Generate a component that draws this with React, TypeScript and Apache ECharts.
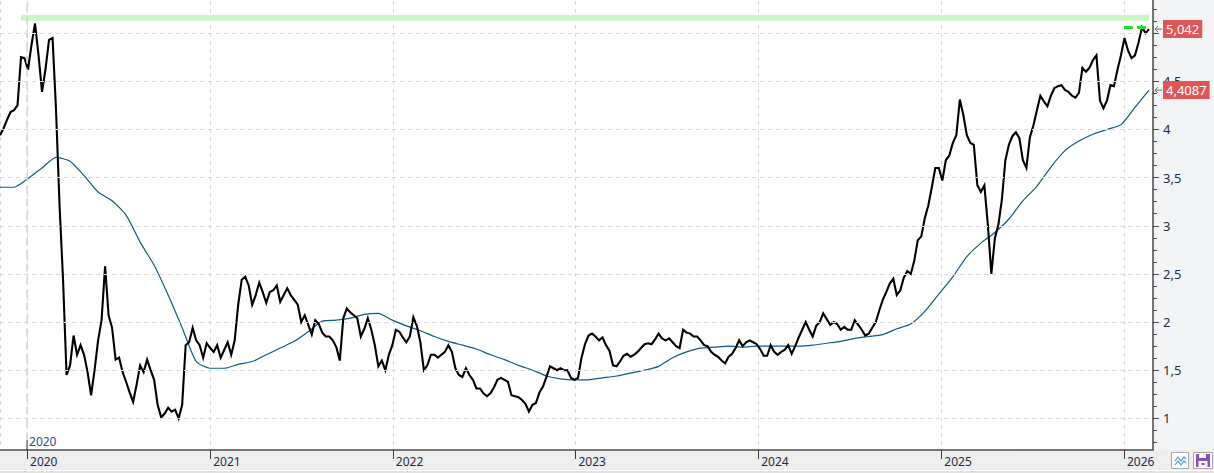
import React, { useEffect, useRef } from "react";
import * as echarts from "echarts";

const DAY = 86400000;
const WEEK = 7 * DAY;
const FONT = "'Segoe UI', 'Noto Sans', sans-serif";
const TEXT = "#1f2b48";

// the chart canvas starts above the page so that the 0.5-step scale can
// run past the visible top edge
const LIFT = 15;

// first weekly bar of the series
const FIRST_WEEK = new Date(2019, 10, 8).getTime();

// weekly closes, one list per calendar year
const close2019 = [3.94, 4.01, 4.1, 4.18, 4.2, 4.25, 4.75, 4.74];
const close2020 = [
  4.62, 4.88, 5.1, 4.77, 4.39, 4.63, 4.93, 4.95, 4.2, 3.21, 2.44, 1.45, 1.55, 1.86,
  1.66, 1.76, 1.66, 1.48, 1.24, 1.5, 1.81, 2.02, 2.58, 2.07, 1.94, 1.61, 1.63, 1.48,
  1.38, 1.27, 1.17, 1.35, 1.55, 1.48, 1.61, 1.5, 1.4, 1.14, 1.01, 1.05, 1.11, 1.07,
  1.09, 1.0, 1.14, 1.76, 1.79, 1.94, 1.81, 1.76, 1.63, 1.78,
];
const close2021 = [
  1.73, 1.69, 1.76, 1.63, 1.71, 1.79, 1.66, 1.81, 2.18, 2.44, 2.47, 2.38, 2.18, 2.28,
  2.41, 2.31, 2.2, 2.31, 2.33, 2.38, 2.21, 2.28, 2.35, 2.28, 2.23, 2.18, 2.0, 2.07,
  1.97, 1.87, 2.02, 1.98, 1.89, 1.85, 1.85, 1.81, 1.74, 1.6, 2.04, 2.14, 2.1, 2.07,
  2.04, 1.85, 1.93, 2.04, 1.92, 1.76, 1.54, 1.6, 1.5, 1.66,
];
const close2022 = [
  1.76, 1.92, 1.9, 1.84, 1.79, 1.85, 2.05, 1.96, 1.79, 1.5, 1.55, 1.66, 1.66, 1.63,
  1.66, 1.69, 1.76, 1.69, 1.52, 1.45, 1.43, 1.52, 1.45, 1.4, 1.31, 1.31, 1.26, 1.23,
  1.26, 1.32, 1.4, 1.42, 1.4, 1.38, 1.24, 1.23, 1.22, 1.19, 1.15, 1.07, 1.14, 1.16,
  1.27, 1.33, 1.43, 1.54, 1.52, 1.5, 1.52, 1.5, 1.5, 1.42,
];
const close2023 = [
  1.4, 1.42, 1.63, 1.77, 1.86, 1.88, 1.85, 1.81, 1.84, 1.76, 1.7, 1.55, 1.54, 1.59,
  1.65, 1.67, 1.64, 1.66, 1.69, 1.73, 1.77, 1.78, 1.77, 1.82, 1.88, 1.83, 1.81, 1.83,
  1.79, 1.75, 1.73, 1.92, 1.89, 1.88, 1.85, 1.85, 1.81, 1.76, 1.75, 1.69, 1.66, 1.64,
  1.6, 1.57, 1.64, 1.67, 1.73, 1.81, 1.75, 1.79, 1.81, 1.79,
];
const close2024 = [
  1.77, 1.72, 1.65, 1.65, 1.76, 1.69, 1.66, 1.69, 1.71, 1.76, 1.67, 1.75, 1.84, 1.92,
  2.0, 1.92, 1.85, 1.96, 2.0, 2.09, 2.03, 1.97, 2.0, 1.98, 1.92, 1.95, 1.92, 1.92,
  2.02, 1.97, 1.92, 1.86, 1.88, 1.94, 2.0, 2.12, 2.23, 2.31, 2.4, 2.45, 2.28, 2.33,
  2.46, 2.53, 2.5, 2.64, 2.85, 2.89, 3.08, 3.21, 3.4, 3.6,
];
const close2025 = [
  3.6, 3.47, 3.68, 3.73, 3.86, 3.94, 4.31, 4.15, 3.94, 3.86, 3.84, 3.42, 3.35, 3.42,
  3.01, 2.5, 2.87, 3.01, 3.27, 3.68, 3.84, 3.93, 3.97, 3.91, 3.68, 3.6, 3.92, 4.04,
  4.2, 4.35, 4.29, 4.24, 4.35, 4.43, 4.45, 4.46, 4.41, 4.39, 4.35, 4.33, 4.38, 4.64,
  4.6, 4.64, 4.72, 4.77, 4.3, 4.22, 4.3, 4.46, 4.45, 4.62, 4.77,
];
const close2026 = [4.95, 4.82, 4.74, 4.77, 4.9, 5.06, 5.0, 5.042];

// long moving average, sampled every four weeks from the first weekly bar
const MA_STEP_WEEKS = 4;
const movingAvg = [
  3.4, 3.4, 3.49, 3.6, 3.71, 3.67, 3.52, 3.35, 3.26, 3.11, 2.83, 2.59, 2.28, 1.94,
  1.59, 1.52, 1.52, 1.56, 1.59, 1.66, 1.73, 1.8, 1.9, 2.01, 2.02, 2.04, 2.08, 2.09,
  2.02, 1.96, 1.91, 1.85, 1.8, 1.76, 1.72, 1.66, 1.61, 1.55, 1.5, 1.44, 1.41, 1.4,
  1.4, 1.42, 1.44, 1.47, 1.5, 1.54, 1.63, 1.69, 1.73, 1.74, 1.75, 1.74, 1.75, 1.75,
  1.75, 1.75, 1.76, 1.78, 1.8, 1.83, 1.85, 1.87, 1.93, 1.98, 2.11, 2.29, 2.47, 2.68,
  2.82, 2.93, 3.07, 3.26, 3.41, 3.61, 3.78, 3.88, 3.95, 4.0, 4.05, 4.23, 4.4087,
];

// all-time-high zone and recent high
const highZone = [5.13, 5.19];
const highZoneStart = new Date(2019, 11, 20).getTime();
const recentHigh = 5.06;
const recentHighStart = new Date(2026, 0, 1).getTime();
const markerYear = 2020;

const X_MIN = new Date(2019, 10, 8).getTime();
const X_MAX = new Date(2026, 1, 28).getTime();

const closes = [
  ...close2019,
  ...close2020,
  ...close2021,
  ...close2022,
  ...close2023,
  ...close2024,
  ...close2025,
  ...close2026,
];
const priceData = closes.map((v, i) => [FIRST_WEEK + i * WEEK, v]);
const maData = movingAvg.map((v, i) => [FIRST_WEEK + i * MA_STEP_WEEKS * WEEK, v]);
const lastPrice = priceData[priceData.length - 1];
const lastMa = maData[maData.length - 1];
const markerTime = new Date(markerYear, 0, 1).getTime();

const fmt = (v: number) => String(v).replace(".", ",");

export default function App() {
  const ref = useRef<HTMLDivElement>(null);

  useEffect(() => {
    if (!ref.current) return;
    const chart = echarts.init(ref.current, undefined, { renderer: "svg" });

    const timeAxisBase = {
      type: "time",
      min: X_MIN,
      max: X_MAX,
      splitNumber: 6,
      minInterval: 365 * DAY,
      maxInterval: 366 * DAY,
    };

    chart.setOption({
      animation: false,
      backgroundColor: "#ffffff",
      grid: [
        { left: 0, right: 61, top: 0, height: 481.5 },
        { left: 0, right: 61, top: LIFT, height: 450 },
      ],
      xAxis: [
        {
          ...timeAxisBase,
          gridIndex: 0,
          axisLine: { show: false },
          axisTick: { show: false },
          axisLabel: { show: false },
          splitLine: { show: true, lineStyle: { color: "#dadada", type: [4, 4], width: 1 } },
        },
        {
          ...timeAxisBase,
          gridIndex: 1,
          z: 60,
          axisLine: { show: true, lineStyle: { color: "#4a4a4a", width: 1.5 } },
          axisTick: { show: true, length: 9, lineStyle: { color: "#3a3a3a", width: 1 } },
          axisLabel: {
            show: true,
            formatter: (val: number) => String(new Date(val).getFullYear()),
            align: "left",
            verticalAlign: "top",
            margin: 5,
            padding: [0, 0, 0, 3],
            color: TEXT,
            fontSize: 12,
            fontFamily: FONT,
            showMinLabel: false,
            showMaxLabel: false,
          },
          splitLine: { show: false },
        },
      ],
      yAxis: [
        {
          type: "value",
          gridIndex: 0,
          position: "right",
          min: 0.5,
          max: 5.5,
          interval: 0.5,
          z: 5,
          axisLine: { show: true, lineStyle: { color: "#4a4a4a", width: 1.5 } },
          axisTick: { show: true, length: 6, lineStyle: { color: "#4a4a4a" } },
          minorTick: { show: true, splitNumber: 4, length: 4, lineStyle: { color: "#4a4a4a" } },
          axisLabel: {
            formatter: (v: number) => (v <= 0.5 || v >= 5.5 ? "" : fmt(v)),
            margin: 10,
            color: TEXT,
            fontSize: 13,
            fontFamily: FONT,
          },
          splitLine: { show: true, lineStyle: { color: "#dadada", type: [4, 4], width: 1 } },
        },
        { type: "value", gridIndex: 1, show: false, min: 0, max: 1 },
      ],
      series: [
        {
          name: "MA",
          type: "line",
          xAxisIndex: 0,
          yAxisIndex: 0,
          data: maData,
          showSymbol: false,
          smooth: 0.2,
          z: 3,
          lineStyle: { color: "#0b5a8c", width: 1.2 },
        },
        {
          name: "Close",
          type: "line",
          xAxisIndex: 0,
          yAxisIndex: 0,
          data: priceData,
          showSymbol: false,
          z: 4,
          lineStyle: { color: "#000000", width: 2.1, join: "miter" },
          markArea: {
            silent: true,
            itemStyle: { color: "#c8f7c4" },
            data: [
              [
                { xAxis: highZoneStart, yAxis: highZone[0] },
                { xAxis: lastPrice[0], yAxis: highZone[1] },
              ],
            ],
          },
          markLine: {
            silent: true,
            symbol: "none",
            label: { show: false },
            data: [
              [
                {
                  coord: [recentHighStart, recentHigh],
                  lineStyle: { color: "#22e022", width: 3, type: [9, 4] },
                },
                { coord: [lastPrice[0], recentHigh] },
              ],
              {
                xAxis: markerTime,
                lineStyle: { color: "#d2d2d2", width: 1.5, type: [8, 5] },
              },
            ],
          },
        },
      ],
    });

    const [, pyLast] = chart.convertToPixel({ xAxisIndex: 0, yAxisIndex: 0 }, lastPrice) as number[];
    const [, myLast] = chart.convertToPixel({ xAxisIndex: 0, yAxisIndex: 0 }, lastMa) as number[];
    const [mx] = chart.convertToPixel({ xAxisIndex: 0, yAxisIndex: 0 }, [markerTime, 1]) as number[];

    const axisX = 1153;
    const baseY = LIFT + 450;
    const valueTag = (y: number, text: string) => [
      {
        type: "polyline",
        z: 70,
        shape: { points: [[axisX + 5, y - 3], [axisX + 2, y], [axisX + 5, y + 3]] },
        style: { stroke: "#6a6a6a", lineWidth: 1, fill: null },
      },
      {
        type: "line",
        z: 70,
        shape: { x1: axisX + 2, y1: y, x2: axisX + 9, y2: y },
        style: { stroke: "#6a6a6a", lineWidth: 1 },
      },
      {
        type: "text",
        z: 71,
        x: axisX + 10,
        y,
        style: {
          text,
          fill: "#ffffff",
          font: `13px ${FONT}`,
          verticalAlign: "middle",
          align: "left",
          backgroundColor: "#e05656",
          padding: [3, 3, 2, 3],
        },
      },
    ];

    chart.setOption({
      graphic: [
        // right scale panel
        {
          type: "rect",
          z: -10,
          shape: { x: axisX, y: 0, width: 1214 - axisX, height: baseY },
          style: { fill: "#f3f4f6" },
        },
        // bottom date strip
        {
          type: "rect",
          z: 50,
          shape: { x: 0, y: baseY, width: 1214, height: 40 },
          style: { fill: "#eeeeee" },
        },
        {
          type: "rect",
          z: 50,
          shape: { x: 0, y: baseY + 20, width: 1214, height: 1 },
          style: { fill: "#ffffff" },
        },
        {
          type: "rect",
          z: 50,
          shape: { x: 0, y: baseY + 21, width: 1214, height: 10 },
          style: { fill: "#e2e2e2" },
        },
        // marker year caption
        {
          type: "line",
          z: 20,
          shape: { x1: mx, y1: baseY - 10, x2: mx, y2: baseY },
          style: { stroke: "#3a3a3a", lineWidth: 1 },
        },
        {
          type: "text",
          z: 20,
          x: mx + 2,
          y: baseY - 9,
          style: {
            text: String(markerYear),
            fill: "#2d4f86",
            font: `12px ${FONT}`,
            verticalAlign: "middle",
            align: "left",
          },
        },
        ...valueTag(pyLast, fmt(lastPrice[1])),
        ...valueTag(myLast, fmt(lastMa[1])),
        // toolbar buttons
        {
          type: "rect",
          z: 80,
          shape: { x: 1171.5, y: baseY + 2.5, width: 17, height: 16 },
          style: { fill: "#ffffff", stroke: "#a8a8a8", lineWidth: 1 },
        },
        {
          type: "polyline",
          z: 81,
          shape: {
            points: [[1175, baseY + 11], [1178, baseY + 7], [1181, baseY + 11], [1184, baseY + 7], [1186, baseY + 9]],
          },
          style: { stroke: "#4d9be0", lineWidth: 1.2, fill: null },
        },
        {
          type: "polyline",
          z: 81,
          shape: {
            points: [[1175, baseY + 15], [1178, baseY + 11], [1181, baseY + 15], [1184, baseY + 11], [1186, baseY + 13]],
          },
          style: { stroke: "#4d9be0", lineWidth: 1.2, fill: null },
        },
        {
          type: "rect",
          z: 80,
          shape: { x: 1193.5, y: baseY + 2.5, width: 19, height: 16 },
          style: { fill: "#ffffff", stroke: "#a8a8a8", lineWidth: 1 },
        },
        {
          type: "rect",
          z: 81,
          shape: { x: 1196, y: baseY + 4, width: 14, height: 13 },
          style: { fill: "#8a4fc4" },
        },
        {
          type: "rect",
          z: 82,
          shape: { x: 1199, y: baseY + 4, width: 7, height: 4 },
          style: { fill: "#ffffff" },
        },
        {
          type: "rect",
          z: 82,
          shape: { x: 1198.5, y: baseY + 11, width: 9, height: 6 },
          style: { fill: "#ffffff" },
        },
        {
          type: "rect",
          z: 83,
          shape: { x: 1201.5, y: baseY + 13, width: 3, height: 2 },
          style: { fill: "#8a4fc4" },
        },
      ],
    });

    return () => chart.dispose();
  }, []);

  return (
    <div
      ref={ref}
      style={{ position: "fixed", left: 0, top: -LIFT, width: 1214, height: 473 + LIFT + 20 }}
    />
  );
}
